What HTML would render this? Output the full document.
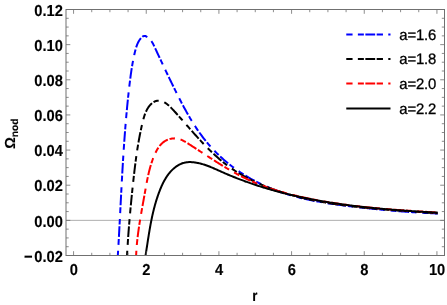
<!DOCTYPE html>
<html><head><meta charset="utf-8"><title>plot</title>
<style>
html,body{margin:0;padding:0;background:#fff;}
svg{display:block;font-family:"Liberation Sans",sans-serif;text-rendering:geometricPrecision;}
</style></head><body>
<svg width="447" height="305" viewBox="0 0 447 305">
<rect width="447" height="305" fill="#fff"/>
<defs><filter id="g" x="-0.1" y="-0.1" width="1.2" height="1.2" color-interpolation-filters="sRGB"><feColorMatrix type="matrix" values="1 0 0 0 0  0 1 0 0 0  0 0 1 0 0  0 0 0 1 0"/></filter><clipPath id="c"><rect x="66.0" y="9.5" width="378.5" height="246.0"/></clipPath></defs>

<line x1="66.0" x2="444.5" y1="220.36" y2="220.36" stroke="#8c8c8c" stroke-width="0.7"/>
<g clip-path="url(#c)" fill="none" stroke-width="2" stroke-linejoin="round">
<path d="M117.83 255.45 L117.90 254.26 L117.97 253.07 L118.05 251.88 L118.12 250.68 L118.19 249.49 L118.26 248.30 L118.33 247.11 L118.40 245.92 L118.47 244.72 L118.53 243.53 L118.60 242.34 L118.67 241.14 L118.74 239.95 L118.80 238.76 L118.87 237.56 L118.93 236.37 L119.00 235.17 L119.07 233.98 L119.13 232.78 L119.20 231.59 L119.26 230.39 L119.32 229.20 L119.39 228.00 L119.45 226.81 L119.51 225.61 L119.58 224.42 L119.64 223.22 L119.70 222.03 L119.77 220.83 L119.83 219.63 L119.89 218.44 L119.95 217.24 L120.01 216.04 L120.08 214.85 L120.14 213.65 L120.20 212.45 L120.26 211.26 L120.32 210.06 L120.38 208.86 L120.45 207.67 L120.51 206.47 L120.57 205.27 L120.63 204.07 L120.69 202.88 L120.75 201.68 L120.82 200.48 L120.88 199.28 L120.94 198.09 L121.00 196.89 L121.07 195.69 L121.13 194.49 L121.19 193.29 L121.25 192.10 L121.32 190.90 L121.38 189.70 L121.44 188.50 L121.51 187.30 L121.57 186.11 L121.64 184.91 L121.70 183.71 L121.76 182.51 L121.83 181.31 L121.90 180.11 L121.96 178.92 L122.03 177.72 L122.09 176.52 L122.16 175.32 L122.23 174.12 L122.30 172.93 L122.36 171.73 L122.43 170.53 L122.50 169.33 L122.57 168.13 L122.64 166.94 L122.71 165.74 L122.78 164.54 L122.86 163.34 L122.93 162.15 L123.00 160.95 L123.08 159.75 L123.15 158.55 L123.22 157.36 L123.30 156.16 L123.37 154.96 L123.45 153.77 L123.53 152.57 L123.61 151.37 L123.69 150.17 L123.76 148.98 L123.84 147.78 L123.93 146.58 L124.01 145.39 L124.09 144.19 L124.17 143.00 L124.26 141.80 L124.34 140.60 L124.43 139.41 L124.51 138.21 L124.60 137.02 L124.69 135.82 L124.78 134.63 L124.87 133.43 L124.96 132.24 L125.05 131.04 L125.14 129.85 L125.24 128.65 L125.33 127.46 L125.43 126.27 L125.53 125.07 L125.62 123.88 L125.72 122.69 L125.82 121.49 L125.92 120.30 L126.03 119.11 L126.13 117.91 L126.23 116.72 L126.34 115.53 L126.44 114.34 L126.55 113.15 L126.66 111.96 L126.77 110.76 L126.88 109.57 L127.00 108.38 L127.11 107.19 L127.22 106.00 L127.34 104.81 L127.46 103.62 L127.58 102.43 L127.70 101.24 L127.82 100.05 L127.94 98.87 L128.07 97.68 L128.19 96.49 L128.32 95.30 L128.45 94.11 L128.58 92.93 L128.71 91.74 L128.84 90.55 L128.97 89.37 L129.11 88.18 L129.25 86.99 L129.38 85.81 L129.52 84.62 L129.67 83.44 L129.81 82.25 L129.96 81.07 L130.10 79.89 L130.25 78.70 L130.41 77.52 L130.56 76.33 L130.72 75.15 L130.89 73.96 L131.06 72.78 L131.23 71.60 L131.41 70.41 L131.59 69.22 L131.77 68.04 L131.97 66.85 L132.16 65.67 L132.37 64.48 L132.58 63.29 L132.79 62.10 L133.02 60.91 L133.25 59.72 L133.49 58.53 L133.73 57.34 L133.98 56.15 L134.24 54.95 L134.51 53.76 L134.79 52.56 L135.08 51.37 L135.38 50.17 L135.70 48.99 L136.04 47.82 L136.41 46.66 L136.80 45.52 L137.23 44.40 L137.70 43.31 L138.21 42.24 L138.76 41.22 L139.37 40.22 L140.02 39.27 L140.74 38.37 L141.51 37.51 L142.35 36.74 L143.26 36.17 L144.24 35.92 L145.30 36.05 L146.38 36.48 L147.45 37.13 L148.44 37.89 L149.35 38.71 L150.17 39.60 L150.93 40.53 L151.63 41.51 L152.28 42.53 L152.89 43.58 L153.45 44.65 L154.00 45.74 L154.52 46.84 L155.04 47.95 L155.55 49.06 L156.07 50.16 L156.58 51.26 L157.09 52.36 L157.60 53.46 L158.11 54.56 L158.62 55.65 L159.13 56.75 L159.64 57.84 L160.15 58.93 L160.66 60.01 L161.17 61.10 L161.68 62.18 L162.19 63.27 L162.70 64.35 L163.21 65.43 L163.72 66.51 L164.24 67.59 L164.75 68.66 L165.26 69.74 L165.77 70.82 L166.28 71.89 L166.80 72.96 L167.31 74.04 L167.82 75.11 L168.34 76.18 L168.85 77.25 L169.37 78.32 L169.89 79.39 L170.41 80.46 L170.93 81.53 L171.45 82.60 L171.97 83.67 L172.49 84.74 L173.02 85.81 L173.54 86.88 L174.07 87.95 L174.60 89.02 L175.13 90.09 L175.66 91.16 L176.20 92.23 L176.73 93.30 L177.27 94.37 L177.81 95.44 L178.35 96.51 L178.89 97.58 L179.44 98.65 L179.99 99.72 L180.54 100.79 L181.10 101.85 L181.65 102.92 L182.21 103.98 L182.78 105.04 L183.34 106.11 L183.91 107.17 L184.48 108.22 L185.06 109.28 L185.64 110.33 L186.22 111.39 L186.81 112.43 L187.40 113.48 L188.00 114.53 L188.60 115.57 L189.20 116.61 L189.81 117.65 L190.43 118.68 L191.04 119.71 L191.67 120.74 L192.30 121.76 L192.93 122.78 L193.57 123.80 L194.21 124.81 L194.86 125.82 L195.51 126.83 L196.17 127.83 L196.84 128.82 L197.51 129.82 L198.18 130.80 L198.87 131.79 L199.55 132.76 L200.25 133.74 L200.95 134.71 L201.66 135.67 L202.37 136.63 L203.09 137.58 L203.82 138.53 L204.56 139.47 L205.30 140.41 L206.05 141.34 L206.81 142.26 L207.57 143.18 L208.34 144.09 L209.12 144.99 L209.91 145.89 L210.70 146.78 L211.50 147.67 L212.31 148.55 L213.12 149.42 L213.95 150.29 L214.78 151.15 L215.61 152.00 L216.46 152.85 L217.31 153.69 L218.16 154.52 L219.03 155.35 L219.90 156.17 L220.78 156.98 L221.66 157.79 L222.55 158.59 L223.45 159.38 L224.35 160.17 L225.26 160.94 L226.17 161.72 L227.09 162.48 L228.02 163.24 L228.95 163.99 L229.89 164.74 L230.83 165.48 L231.78 166.21 L232.74 166.93 L233.70 167.65 L234.66 168.36 L235.63 169.06 L236.61 169.76 L237.59 170.45 L238.58 171.13 L239.57 171.80 L240.56 172.47 L241.57 173.13 L242.57 173.78 L243.58 174.43 L244.60 175.07 L245.62 175.70 L246.64 176.32 L247.67 176.94 L248.70 177.55 L249.74 178.15 L250.78 178.75 L251.83 179.33 L252.88 179.91 L253.93 180.49 L254.99 181.05 L256.05 181.61 L257.11 182.16 L258.18 182.70 L259.25 183.23 L260.33 183.76 L261.41 184.28 L262.49 184.79 L263.58 185.30 L264.67 185.79 L265.76 186.28 L266.85 186.76 L267.95 187.24 L269.05 187.70 L270.15 188.16 L271.26 188.61 L272.37 189.05 L273.48 189.49 L274.60 189.92 L275.71 190.34 L276.83 190.75 L277.95 191.16 L279.08 191.56 L280.21 191.95 L281.34 192.34 L282.47 192.72 L283.60 193.09 L284.74 193.45 L285.88 193.81 L287.02 194.17 L288.16 194.51 L289.30 194.85 L290.45 195.19 L291.60 195.52 L292.75 195.84 L293.90 196.16 L295.06 196.47 L296.21 196.77 L297.37 197.07 L298.53 197.37 L299.69 197.66 L300.86 197.94 L302.02 198.22 L303.19 198.49 L304.36 198.76 L305.53 199.02 L306.70 199.28 L307.87 199.54 L309.04 199.79 L310.22 200.03 L311.39 200.27 L312.57 200.51 L313.75 200.74 L314.93 200.97 L316.11 201.19 L317.29 201.41 L318.47 201.62 L319.66 201.84 L320.84 202.04 L322.03 202.25 L323.21 202.45 L324.40 202.65 L325.59 202.84 L326.78 203.03 L327.97 203.22 L329.16 203.40 L330.35 203.58 L331.54 203.76 L332.73 203.94 L333.92 204.11 L335.11 204.28 L336.31 204.45 L337.50 204.61 L338.69 204.78 L339.88 204.94 L341.08 205.10 L342.27 205.25 L343.47 205.41 L344.66 205.56 L345.85 205.71 L347.05 205.86 L348.24 206.01 L349.43 206.15 L350.63 206.30 L351.82 206.44 L353.01 206.58 L354.21 206.72 L355.40 206.86 L356.59 207.00 L357.78 207.13 L358.97 207.27 L360.16 207.41 L361.35 207.54 L362.54 207.67 L363.73 207.81 L364.92 207.94 L366.11 208.07 L367.30 208.20 L368.49 208.32 L369.68 208.45 L370.86 208.58 L372.05 208.70 L373.24 208.82 L374.43 208.95 L375.62 209.07 L376.80 209.19 L377.99 209.31 L379.18 209.43 L380.37 209.54 L381.55 209.66 L382.74 209.77 L383.93 209.88 L385.12 210.00 L386.30 210.11 L387.49 210.22 L388.68 210.32 L389.87 210.43 L391.06 210.54 L392.25 210.64 L393.43 210.74 L394.62 210.84 L395.81 210.94 L397.00 211.04 L398.19 211.14 L399.38 211.24 L400.57 211.33 L401.76 211.42 L402.95 211.51 L404.15 211.60 L405.34 211.69 L406.53 211.78 L407.72 211.87 L408.92 211.95 L410.11 212.03 L411.31 212.11 L412.50 212.19 L413.70 212.27 L414.89 212.35 L416.09 212.42 L417.29 212.50 L418.48 212.57 L419.68 212.64 L420.88 212.71 L422.08 212.78 L423.28 212.84 L424.48 212.90 L425.69 212.97 L426.89 213.03 L428.09 213.09 L429.30 213.14 L430.51 213.20 L431.71 213.25 L432.92 213.30 L434.13 213.35 L435.34 213.40 L436.55 213.45 L437.76 213.49" stroke="#0000ff" stroke-dasharray="5.450 5.850 5.900 2.100 10.600 1.850" stroke-dashoffset="0.7"/>
<path d="M127.02 255.48 L127.08 254.53 L127.13 253.58 L127.18 252.63 L127.24 251.68 L127.29 250.73 L127.35 249.77 L127.41 248.82 L127.46 247.87 L127.52 246.92 L127.58 245.97 L127.64 245.01 L127.71 244.06 L127.77 243.11 L127.83 242.15 L127.89 241.20 L127.96 240.25 L128.02 239.29 L128.09 238.34 L128.16 237.39 L128.22 236.43 L128.29 235.48 L128.36 234.52 L128.43 233.57 L128.50 232.62 L128.57 231.66 L128.64 230.71 L128.72 229.75 L128.79 228.80 L128.87 227.84 L128.94 226.89 L129.02 225.93 L129.09 224.98 L129.17 224.02 L129.25 223.07 L129.33 222.11 L129.41 221.16 L129.48 220.20 L129.57 219.25 L129.65 218.29 L129.73 217.34 L129.81 216.38 L129.89 215.43 L129.98 214.47 L130.06 213.52 L130.15 212.57 L130.23 211.61 L130.32 210.66 L130.41 209.70 L130.49 208.75 L130.58 207.79 L130.67 206.84 L130.76 205.88 L130.85 204.93 L130.94 203.97 L131.03 203.02 L131.13 202.07 L131.22 201.11 L131.31 200.16 L131.41 199.21 L131.50 198.25 L131.59 197.30 L131.69 196.35 L131.79 195.39 L131.88 194.44 L131.98 193.49 L132.08 192.54 L132.18 191.58 L132.27 190.63 L132.37 189.68 L132.47 188.73 L132.57 187.78 L132.67 186.83 L132.78 185.87 L132.88 184.92 L132.98 183.97 L133.08 183.02 L133.19 182.07 L133.29 181.12 L133.39 180.17 L133.50 179.22 L133.60 178.28 L133.71 177.33 L133.82 176.38 L133.92 175.43 L134.03 174.48 L134.14 173.53 L134.25 172.59 L134.36 171.64 L134.47 170.69 L134.58 169.75 L134.69 168.80 L134.81 167.85 L134.92 166.91 L135.04 165.96 L135.16 165.01 L135.28 164.07 L135.40 163.12 L135.52 162.18 L135.64 161.23 L135.77 160.29 L135.89 159.34 L136.02 158.40 L136.15 157.45 L136.28 156.51 L136.41 155.56 L136.55 154.62 L136.68 153.68 L136.82 152.73 L136.96 151.79 L137.10 150.84 L137.25 149.90 L137.39 148.96 L137.54 148.01 L137.69 147.07 L137.85 146.13 L138.00 145.18 L138.16 144.24 L138.32 143.30 L138.48 142.36 L138.65 141.41 L138.81 140.47 L138.98 139.53 L139.15 138.58 L139.33 137.64 L139.51 136.70 L139.69 135.76 L139.87 134.81 L140.06 133.87 L140.25 132.93 L140.44 131.98 L140.64 131.04 L140.83 130.10 L141.04 129.16 L141.24 128.21 L141.45 127.27 L141.66 126.33 L141.87 125.39 L142.09 124.44 L142.31 123.50 L142.54 122.56 L142.77 121.61 L143.00 120.67 L143.24 119.73 L143.50 118.80 L143.76 117.87 L144.03 116.94 L144.32 116.02 L144.62 115.11 L144.94 114.21 L145.28 113.32 L145.63 112.44 L146.01 111.57 L146.42 110.71 L146.85 109.87 L147.30 109.05 L147.79 108.24 L148.30 107.45 L148.85 106.68 L149.43 105.92 L150.05 105.19 L150.70 104.49 L151.39 103.81 L152.11 103.17 L152.86 102.59 L153.64 102.07 L154.46 101.61 L155.29 101.24 L156.16 100.95 L157.04 100.77 L157.95 100.69 L158.87 100.70 L159.78 100.80 L160.68 100.97 L161.56 101.21 L162.42 101.50 L163.27 101.85 L164.10 102.25 L164.91 102.71 L165.71 103.20 L166.50 103.74 L167.27 104.32 L168.03 104.92 L168.78 105.56 L169.52 106.23 L170.25 106.92 L170.96 107.62 L171.67 108.34 L172.37 109.07 L173.05 109.81 L173.74 110.55 L174.41 111.30 L175.08 112.03 L175.74 112.77 L176.40 113.50 L177.05 114.23 L177.70 114.95 L178.34 115.67 L178.97 116.38 L179.61 117.10 L180.24 117.81 L180.87 118.52 L181.49 119.23 L182.11 119.93 L182.73 120.64 L183.35 121.34 L183.97 122.04 L184.59 122.75 L185.20 123.45 L185.82 124.15 L186.43 124.85 L187.05 125.55 L187.67 126.26 L188.28 126.96 L188.90 127.67 L189.52 128.38 L190.15 129.08 L190.77 129.79 L191.40 130.50 L192.03 131.21 L192.65 131.92 L193.28 132.63 L193.92 133.34 L194.55 134.05 L195.19 134.76 L195.83 135.47 L196.47 136.18 L197.11 136.89 L197.75 137.60 L198.40 138.31 L199.04 139.02 L199.69 139.73 L200.35 140.43 L201.00 141.14 L201.66 141.84 L202.32 142.54 L202.98 143.24 L203.64 143.94 L204.31 144.64 L204.97 145.33 L205.65 146.02 L206.32 146.71 L206.99 147.40 L207.67 148.09 L208.35 148.77 L209.04 149.45 L209.72 150.13 L210.41 150.81 L211.10 151.48 L211.80 152.15 L212.50 152.81 L213.20 153.47 L213.90 154.13 L214.61 154.79 L215.32 155.44 L216.03 156.09 L216.74 156.73 L217.46 157.37 L218.18 158.01 L218.91 158.64 L219.64 159.26 L220.37 159.89 L221.11 160.50 L221.84 161.12 L222.59 161.72 L223.33 162.33 L224.08 162.92 L224.83 163.51 L225.59 164.10 L226.35 164.68 L227.11 165.26 L227.88 165.83 L228.65 166.39 L229.42 166.95 L230.20 167.50 L230.98 168.05 L231.76 168.60 L232.55 169.13 L233.34 169.67 L234.13 170.19 L234.93 170.72 L235.73 171.23 L236.53 171.75 L237.34 172.25 L238.15 172.75 L238.96 173.25 L239.78 173.74 L240.60 174.23 L241.42 174.71 L242.24 175.19 L243.07 175.66 L243.90 176.13 L244.73 176.59 L245.56 177.05 L246.40 177.50 L247.24 177.95 L248.09 178.40 L248.93 178.84 L249.78 179.27 L250.63 179.70 L251.48 180.13 L252.34 180.55 L253.19 180.97 L254.05 181.38 L254.92 181.79 L255.78 182.19 L256.65 182.59 L257.52 182.98 L258.39 183.37 L259.26 183.76 L260.13 184.14 L261.01 184.52 L261.89 184.90 L262.77 185.27 L263.65 185.63 L264.54 185.99 L265.43 186.35 L266.31 186.70 L267.20 187.05 L268.10 187.40 L268.99 187.74 L269.88 188.08 L270.78 188.42 L271.68 188.75 L272.58 189.07 L273.48 189.40 L274.38 189.72 L275.29 190.03 L276.19 190.35 L277.10 190.65 L278.01 190.96 L278.92 191.26 L279.83 191.56 L280.74 191.85 L281.65 192.15 L282.57 192.43 L283.48 192.72 L284.40 193.00 L285.32 193.28 L286.23 193.55 L287.15 193.82 L288.07 194.09 L288.99 194.36 L289.91 194.62 L290.84 194.88 L291.76 195.13 L292.68 195.39 L293.61 195.64 L294.53 195.88 L295.46 196.13 L296.38 196.37 L297.31 196.61 L298.24 196.84 L299.17 197.08 L300.09 197.31 L301.02 197.53 L301.95 197.76 L302.88 197.98 L303.81 198.20 L304.75 198.41 L305.68 198.63 L306.61 198.84 L307.54 199.04 L308.48 199.25 L309.41 199.45 L310.34 199.65 L311.28 199.85 L312.21 200.05 L313.15 200.24 L314.09 200.43 L315.02 200.62 L315.96 200.80 L316.90 200.99 L317.84 201.17 L318.77 201.35 L319.71 201.52 L320.65 201.70 L321.59 201.87 L322.53 202.04 L323.47 202.20 L324.42 202.37 L325.36 202.53 L326.30 202.69 L327.24 202.85 L328.18 203.01 L329.13 203.16 L330.07 203.31 L331.02 203.46 L331.96 203.61 L332.90 203.76 L333.85 203.90 L334.79 204.05 L335.74 204.19 L336.69 204.33 L337.63 204.46 L338.58 204.60 L339.53 204.73 L340.47 204.86 L341.42 204.99 L342.37 205.12 L343.32 205.25 L344.27 205.37 L345.21 205.49 L346.16 205.62 L347.11 205.74 L348.06 205.85 L349.01 205.97 L349.96 206.09 L350.91 206.20 L351.86 206.31 L352.81 206.42 L353.77 206.53 L354.72 206.64 L355.67 206.75 L356.62 206.85 L357.57 206.95 L358.52 207.06 L359.48 207.16 L360.43 207.26 L361.38 207.36 L362.33 207.45 L363.29 207.55 L364.24 207.64 L365.19 207.74 L366.15 207.83 L367.10 207.92 L368.06 208.01 L369.01 208.10 L369.96 208.19 L370.92 208.28 L371.87 208.37 L372.83 208.45 L373.78 208.54 L374.74 208.62 L375.69 208.70 L376.64 208.79 L377.60 208.87 L378.55 208.95 L379.51 209.03 L380.46 209.11 L381.42 209.18 L382.37 209.26 L383.33 209.34 L384.28 209.41 L385.24 209.49 L386.20 209.57 L387.15 209.64 L388.11 209.71 L389.06 209.79 L390.02 209.86 L390.97 209.93 L391.93 210.00 L392.88 210.07 L393.84 210.15 L394.79 210.22 L395.75 210.29 L396.70 210.36 L397.66 210.43 L398.61 210.50 L399.57 210.56 L400.52 210.63 L401.48 210.70 L402.43 210.77 L403.39 210.84 L404.34 210.91 L405.30 210.97 L406.25 211.04 L407.20 211.11 L408.16 211.18 L409.11 211.24 L410.07 211.31 L411.02 211.38 L411.97 211.45 L412.93 211.52 L413.88 211.58 L414.83 211.65 L415.79 211.72 L416.74 211.79 L417.69 211.86 L418.64 211.92 L419.60 211.99 L420.55 212.06 L421.50 212.13 L422.45 212.20 L423.40 212.27 L424.35 212.34 L425.31 212.41 L426.26 212.49 L427.21 212.56 L428.16 212.63 L429.11 212.70 L430.06 212.77 L431.01 212.85 L431.96 212.92 L432.90 213.00 L433.85 213.07 L434.80 213.15 L435.75 213.23 L436.70 213.30 L437.64 213.38" stroke="#000000" stroke-dasharray="5.439 5.838 5.888 2.096 10.579 1.846" stroke-dashoffset="0.7"/>
<path d="M136.12 255.47 L136.16 254.66 L136.19 253.85 L136.24 253.04 L136.28 252.23 L136.33 251.42 L136.38 250.61 L136.43 249.80 L136.49 248.98 L136.55 248.17 L136.61 247.36 L136.68 246.55 L136.74 245.73 L136.81 244.92 L136.89 244.11 L136.96 243.30 L137.04 242.48 L137.13 241.67 L137.21 240.86 L137.30 240.04 L137.39 239.23 L137.48 238.42 L137.57 237.60 L137.67 236.79 L137.77 235.97 L137.87 235.16 L137.97 234.35 L138.07 233.53 L138.18 232.72 L138.29 231.90 L138.40 231.09 L138.51 230.28 L138.63 229.46 L138.74 228.65 L138.86 227.84 L138.98 227.02 L139.10 226.21 L139.22 225.40 L139.35 224.58 L139.47 223.77 L139.60 222.96 L139.73 222.14 L139.86 221.33 L139.99 220.52 L140.12 219.70 L140.26 218.89 L140.39 218.08 L140.53 217.27 L140.66 216.46 L140.80 215.64 L140.94 214.83 L141.08 214.02 L141.22 213.21 L141.36 212.40 L141.50 211.59 L141.64 210.78 L141.79 209.97 L141.93 209.16 L142.07 208.35 L142.22 207.54 L142.36 206.73 L142.51 205.92 L142.65 205.11 L142.80 204.30 L142.94 203.50 L143.09 202.69 L143.24 201.88 L143.38 201.08 L143.53 200.27 L143.67 199.46 L143.82 198.66 L143.96 197.85 L144.11 197.05 L144.26 196.24 L144.40 195.44 L144.54 194.64 L144.69 193.83 L144.83 193.03 L144.97 192.23 L145.12 191.43 L145.26 190.63 L145.40 189.83 L145.54 189.03 L145.69 188.23 L145.83 187.43 L145.97 186.63 L146.12 185.83 L146.26 185.03 L146.41 184.23 L146.56 183.44 L146.71 182.64 L146.86 181.84 L147.01 181.05 L147.17 180.25 L147.32 179.46 L147.48 178.67 L147.65 177.87 L147.81 177.08 L147.98 176.28 L148.16 175.49 L148.33 174.70 L148.51 173.91 L148.70 173.12 L148.88 172.33 L149.08 171.54 L149.27 170.75 L149.47 169.96 L149.68 169.17 L149.89 168.38 L150.11 167.59 L150.33 166.80 L150.56 166.02 L150.79 165.23 L151.03 164.44 L151.28 163.66 L151.53 162.87 L151.79 162.08 L152.06 161.30 L152.33 160.51 L152.61 159.73 L152.90 158.95 L153.20 158.16 L153.50 157.38 L153.81 156.60 L154.13 155.82 L154.46 155.04 L154.80 154.27 L155.15 153.50 L155.51 152.74 L155.88 151.98 L156.26 151.24 L156.66 150.50 L157.07 149.78 L157.49 149.06 L157.93 148.36 L158.38 147.68 L158.85 147.01 L159.33 146.35 L159.83 145.72 L160.34 145.10 L160.88 144.50 L161.43 143.93 L162.00 143.37 L162.59 142.84 L163.20 142.34 L163.83 141.86 L164.48 141.41 L165.15 140.98 L165.85 140.58 L166.56 140.22 L167.30 139.88 L168.05 139.58 L168.81 139.31 L169.59 139.07 L170.38 138.86 L171.18 138.69 L171.99 138.56 L172.80 138.46 L173.61 138.40 L174.41 138.37 L175.22 138.38 L176.02 138.44 L176.82 138.53 L177.60 138.66 L178.38 138.83 L179.14 139.04 L179.90 139.28 L180.65 139.55 L181.39 139.85 L182.13 140.17 L182.86 140.52 L183.58 140.89 L184.30 141.28 L185.02 141.68 L185.73 142.10 L186.44 142.53 L187.14 142.96 L187.85 143.41 L188.55 143.85 L189.25 144.30 L189.95 144.75 L190.65 145.20 L191.35 145.65 L192.05 146.09 L192.75 146.54 L193.45 146.99 L194.14 147.45 L194.84 147.90 L195.54 148.35 L196.23 148.80 L196.93 149.25 L197.62 149.70 L198.31 150.16 L199.01 150.61 L199.70 151.06 L200.39 151.51 L201.09 151.97 L201.78 152.42 L202.47 152.87 L203.16 153.32 L203.85 153.77 L204.55 154.22 L205.24 154.67 L205.93 155.13 L206.62 155.58 L207.31 156.03 L208.00 156.47 L208.69 156.92 L209.38 157.37 L210.08 157.82 L210.77 158.26 L211.46 158.71 L212.15 159.16 L212.84 159.60 L213.53 160.04 L214.23 160.49 L214.92 160.93 L215.61 161.37 L216.31 161.81 L217.00 162.24 L217.69 162.68 L218.39 163.12 L219.08 163.55 L219.78 163.99 L220.47 164.42 L221.17 164.85 L221.87 165.28 L222.56 165.70 L223.26 166.13 L223.96 166.56 L224.66 166.98 L225.36 167.40 L226.06 167.82 L226.76 168.24 L227.47 168.65 L228.17 169.07 L228.87 169.48 L229.58 169.89 L230.28 170.30 L230.99 170.70 L231.70 171.11 L232.41 171.51 L233.12 171.91 L233.83 172.31 L234.54 172.70 L235.25 173.10 L235.97 173.49 L236.68 173.88 L237.40 174.26 L238.11 174.64 L238.83 175.03 L239.55 175.40 L240.28 175.78 L241.00 176.15 L241.72 176.52 L242.45 176.89 L243.17 177.25 L243.90 177.62 L244.63 177.97 L245.36 178.33 L246.10 178.68 L246.83 179.03 L247.57 179.38 L248.30 179.72 L249.04 180.06 L249.78 180.40 L250.53 180.74 L251.27 181.07 L252.02 181.40 L252.76 181.72 L253.51 182.04 L254.26 182.36 L255.01 182.68 L255.77 182.99 L256.52 183.30 L257.27 183.61 L258.03 183.92 L258.79 184.22 L259.55 184.52 L260.31 184.81 L261.07 185.11 L261.84 185.40 L262.60 185.69 L263.37 185.97 L264.13 186.25 L264.90 186.53 L265.67 186.81 L266.44 187.09 L267.21 187.36 L267.99 187.63 L268.76 187.90 L269.53 188.16 L270.31 188.42 L271.09 188.68 L271.87 188.94 L272.64 189.19 L273.42 189.45 L274.21 189.70 L274.99 189.94 L275.77 190.19 L276.55 190.43 L277.34 190.67 L278.12 190.91 L278.91 191.15 L279.70 191.38 L280.49 191.61 L281.27 191.84 L282.06 192.07 L282.85 192.29 L283.64 192.51 L284.44 192.73 L285.23 192.95 L286.02 193.17 L286.82 193.38 L287.61 193.60 L288.40 193.81 L289.20 194.02 L290.00 194.22 L290.79 194.43 L291.59 194.63 L292.39 194.83 L293.19 195.03 L293.98 195.23 L294.78 195.42 L295.58 195.61 L296.38 195.81 L297.18 196.00 L297.98 196.18 L298.78 196.37 L299.59 196.55 L300.39 196.74 L301.19 196.92 L301.99 197.10 L302.79 197.28 L303.60 197.45 L304.40 197.63 L305.20 197.80 L306.01 197.97 L306.81 198.14 L307.61 198.31 L308.42 198.48 L309.22 198.64 L310.03 198.81 L310.83 198.97 L311.63 199.13 L312.44 199.29 L313.24 199.45 L314.05 199.61 L314.85 199.76 L315.66 199.92 L316.46 200.07 L317.27 200.22 L318.07 200.37 L318.88 200.52 L319.69 200.67 L320.49 200.82 L321.30 200.96 L322.10 201.10 L322.91 201.25 L323.72 201.39 L324.52 201.53 L325.33 201.67 L326.14 201.80 L326.95 201.94 L327.75 202.07 L328.56 202.21 L329.37 202.34 L330.18 202.47 L330.98 202.60 L331.79 202.73 L332.60 202.85 L333.41 202.98 L334.22 203.10 L335.03 203.23 L335.83 203.35 L336.64 203.47 L337.45 203.59 L338.26 203.71 L339.07 203.83 L339.88 203.94 L340.69 204.06 L341.50 204.17 L342.31 204.29 L343.12 204.40 L343.93 204.51 L344.74 204.62 L345.55 204.73 L346.36 204.84 L347.17 204.94 L347.98 205.05 L348.79 205.16 L349.60 205.26 L350.41 205.36 L351.22 205.46 L352.04 205.56 L352.85 205.66 L353.66 205.76 L354.47 205.86 L355.28 205.96 L356.09 206.06 L356.91 206.15 L357.72 206.24 L358.53 206.34 L359.34 206.43 L360.15 206.52 L360.97 206.61 L361.78 206.70 L362.59 206.79 L363.41 206.88 L364.22 206.97 L365.03 207.05 L365.84 207.14 L366.66 207.22 L367.47 207.31 L368.28 207.39 L369.10 207.47 L369.91 207.56 L370.73 207.64 L371.54 207.72 L372.35 207.80 L373.17 207.88 L373.98 207.95 L374.80 208.03 L375.61 208.11 L376.42 208.18 L377.24 208.26 L378.05 208.33 L378.87 208.41 L379.68 208.48 L380.50 208.55 L381.31 208.62 L382.13 208.70 L382.94 208.77 L383.76 208.84 L384.57 208.91 L385.39 208.97 L386.20 209.04 L387.02 209.11 L387.84 209.18 L388.65 209.24 L389.47 209.31 L390.28 209.38 L391.10 209.44 L391.92 209.51 L392.73 209.57 L393.55 209.63 L394.36 209.70 L395.18 209.76 L396.00 209.82 L396.81 209.88 L397.63 209.94 L398.45 210.00 L399.26 210.06 L400.08 210.12 L400.90 210.18 L401.71 210.24 L402.53 210.30 L403.35 210.36 L404.17 210.41 L404.98 210.47 L405.80 210.53 L406.62 210.59 L407.44 210.64 L408.25 210.70 L409.07 210.75 L409.89 210.81 L410.71 210.86 L411.52 210.92 L412.34 210.97 L413.16 211.03 L413.98 211.08 L414.80 211.13 L415.61 211.19 L416.43 211.24 L417.25 211.29 L418.07 211.35 L418.89 211.40 L419.71 211.45 L420.52 211.50 L421.34 211.55 L422.16 211.61 L422.98 211.66 L423.80 211.71 L424.62 211.76 L425.44 211.81 L426.25 211.86 L427.07 211.91 L427.89 211.96 L428.71 212.01 L429.53 212.06 L430.35 212.12 L431.17 212.17 L431.99 212.22 L432.81 212.27 L433.63 212.32 L434.45 212.37 L435.27 212.42 L436.08 212.47 L436.90 212.52 L437.72 212.57" stroke="#ff0000" stroke-dasharray="5.401 5.797 5.847 2.081 10.505 1.833" stroke-dashoffset="0.7"/>
<path d="M145.53 255.55 L145.65 254.81 L145.77 254.08 L145.89 253.34 L146.01 252.60 L146.12 251.87 L146.24 251.13 L146.35 250.40 L146.47 249.67 L146.58 248.93 L146.69 248.20 L146.81 247.47 L146.92 246.74 L147.03 246.01 L147.14 245.28 L147.26 244.55 L147.37 243.83 L147.48 243.10 L147.59 242.37 L147.71 241.65 L147.82 240.92 L147.93 240.19 L148.04 239.47 L148.16 238.75 L148.27 238.02 L148.39 237.30 L148.50 236.58 L148.62 235.86 L148.73 235.14 L148.85 234.42 L148.97 233.70 L149.08 232.98 L149.20 232.26 L149.32 231.54 L149.44 230.82 L149.56 230.11 L149.69 229.39 L149.81 228.67 L149.94 227.96 L150.06 227.24 L150.19 226.53 L150.32 225.81 L150.45 225.10 L150.58 224.39 L150.71 223.67 L150.85 222.96 L150.99 222.25 L151.12 221.54 L151.26 220.83 L151.41 220.11 L151.55 219.40 L151.70 218.70 L151.84 217.99 L151.99 217.28 L152.14 216.57 L152.30 215.86 L152.45 215.15 L152.61 214.45 L152.77 213.74 L152.94 213.03 L153.10 212.33 L153.27 211.62 L153.44 210.91 L153.61 210.21 L153.79 209.50 L153.97 208.80 L154.15 208.10 L154.33 207.39 L154.52 206.69 L154.71 205.99 L154.90 205.28 L155.10 204.58 L155.30 203.88 L155.50 203.18 L155.70 202.47 L155.91 201.77 L156.12 201.07 L156.34 200.37 L156.56 199.67 L156.78 198.97 L157.01 198.27 L157.24 197.57 L157.47 196.87 L157.71 196.17 L157.95 195.47 L158.19 194.77 L158.44 194.08 L158.69 193.38 L158.95 192.68 L159.21 191.98 L159.47 191.28 L159.74 190.59 L160.02 189.89 L160.29 189.20 L160.58 188.51 L160.87 187.81 L161.16 187.13 L161.46 186.44 L161.76 185.76 L162.07 185.08 L162.39 184.40 L162.71 183.73 L163.04 183.06 L163.38 182.39 L163.72 181.73 L164.07 181.07 L164.43 180.42 L164.79 179.78 L165.16 179.14 L165.54 178.50 L165.93 177.87 L166.32 177.25 L166.73 176.63 L167.14 176.03 L167.56 175.42 L167.98 174.83 L168.42 174.24 L168.87 173.67 L169.32 173.10 L169.79 172.54 L170.26 171.98 L170.75 171.44 L171.24 170.91 L171.75 170.38 L172.26 169.87 L172.78 169.37 L173.32 168.87 L173.86 168.39 L174.42 167.93 L174.98 167.47 L175.56 167.03 L176.14 166.60 L176.74 166.19 L177.34 165.80 L177.95 165.42 L178.57 165.06 L179.20 164.71 L179.83 164.38 L180.48 164.08 L181.13 163.79 L181.79 163.52 L182.46 163.28 L183.14 163.05 L183.82 162.85 L184.51 162.67 L185.21 162.52 L185.91 162.39 L186.62 162.28 L187.34 162.20 L188.06 162.14 L188.79 162.10 L189.52 162.08 L190.25 162.08 L190.99 162.10 L191.72 162.14 L192.46 162.19 L193.19 162.25 L193.92 162.33 L194.65 162.43 L195.38 162.53 L196.10 162.65 L196.82 162.77 L197.54 162.91 L198.26 163.06 L198.97 163.21 L199.68 163.38 L200.39 163.55 L201.09 163.74 L201.80 163.93 L202.50 164.13 L203.20 164.34 L203.89 164.56 L204.59 164.78 L205.28 165.01 L205.97 165.25 L206.66 165.50 L207.35 165.75 L208.03 166.00 L208.72 166.26 L209.40 166.53 L210.08 166.80 L210.76 167.08 L211.44 167.35 L212.12 167.64 L212.80 167.92 L213.48 168.21 L214.15 168.51 L214.83 168.80 L215.50 169.10 L216.18 169.40 L216.85 169.70 L217.52 170.00 L218.20 170.30 L218.87 170.60 L219.54 170.91 L220.22 171.21 L220.89 171.51 L221.57 171.81 L222.24 172.11 L222.92 172.41 L223.59 172.71 L224.27 173.01 L224.94 173.30 L225.62 173.59 L226.30 173.88 L226.97 174.17 L227.65 174.46 L228.33 174.75 L229.01 175.03 L229.69 175.32 L230.37 175.60 L231.05 175.88 L231.73 176.16 L232.41 176.44 L233.09 176.71 L233.77 176.99 L234.46 177.26 L235.14 177.53 L235.82 177.80 L236.51 178.07 L237.19 178.34 L237.88 178.61 L238.56 178.87 L239.25 179.13 L239.93 179.39 L240.62 179.66 L241.31 179.91 L241.99 180.17 L242.68 180.43 L243.37 180.68 L244.06 180.93 L244.75 181.19 L245.44 181.44 L246.12 181.69 L246.81 181.93 L247.51 182.18 L248.20 182.42 L248.89 182.67 L249.58 182.91 L250.27 183.15 L250.96 183.39 L251.66 183.63 L252.35 183.86 L253.04 184.10 L253.74 184.33 L254.43 184.56 L255.13 184.79 L255.82 185.02 L256.52 185.25 L257.21 185.48 L257.91 185.71 L258.60 185.93 L259.30 186.15 L260.00 186.37 L260.70 186.60 L261.39 186.81 L262.09 187.03 L262.79 187.25 L263.49 187.46 L264.19 187.68 L264.89 187.89 L265.59 188.10 L266.29 188.31 L266.99 188.52 L267.69 188.73 L268.39 188.94 L269.10 189.14 L269.80 189.35 L270.50 189.55 L271.20 189.75 L271.91 189.95 L272.61 190.15 L273.31 190.35 L274.02 190.54 L274.72 190.74 L275.43 190.93 L276.13 191.13 L276.84 191.32 L277.54 191.51 L278.25 191.70 L278.95 191.89 L279.66 192.07 L280.37 192.26 L281.08 192.44 L281.78 192.63 L282.49 192.81 L283.20 192.99 L283.91 193.17 L284.62 193.35 L285.33 193.53 L286.03 193.70 L286.74 193.88 L287.45 194.05 L288.16 194.23 L288.88 194.40 L289.59 194.57 L290.30 194.74 L291.01 194.91 L291.72 195.08 L292.43 195.24 L293.14 195.41 L293.86 195.57 L294.57 195.73 L295.28 195.90 L296.00 196.06 L296.71 196.22 L297.42 196.38 L298.14 196.54 L298.85 196.69 L299.56 196.85 L300.28 197.00 L300.99 197.16 L301.71 197.31 L302.43 197.46 L303.14 197.61 L303.86 197.76 L304.57 197.91 L305.29 198.06 L306.01 198.20 L306.72 198.35 L307.44 198.49 L308.16 198.64 L308.88 198.78 L309.59 198.92 L310.31 199.06 L311.03 199.20 L311.75 199.34 L312.47 199.48 L313.19 199.61 L313.91 199.75 L314.62 199.88 L315.34 200.02 L316.06 200.15 L316.78 200.28 L317.50 200.41 L318.22 200.54 L318.95 200.67 L319.67 200.80 L320.39 200.93 L321.11 201.06 L321.83 201.18 L322.55 201.31 L323.27 201.43 L323.99 201.55 L324.72 201.67 L325.44 201.79 L326.16 201.91 L326.88 202.03 L327.61 202.15 L328.33 202.27 L329.05 202.39 L329.78 202.50 L330.50 202.62 L331.22 202.73 L331.95 202.84 L332.67 202.96 L333.40 203.07 L334.12 203.18 L334.85 203.29 L335.57 203.40 L336.30 203.51 L337.02 203.61 L337.75 203.72 L338.47 203.83 L339.20 203.93 L339.92 204.03 L340.65 204.14 L341.37 204.24 L342.10 204.34 L342.83 204.44 L343.55 204.54 L344.28 204.64 L345.00 204.74 L345.73 204.84 L346.46 204.94 L347.19 205.03 L347.91 205.13 L348.64 205.22 L349.37 205.32 L350.09 205.41 L350.82 205.50 L351.55 205.60 L352.28 205.69 L353.01 205.78 L353.73 205.87 L354.46 205.96 L355.19 206.05 L355.92 206.13 L356.65 206.22 L357.37 206.31 L358.10 206.39 L358.83 206.48 L359.56 206.56 L360.29 206.65 L361.02 206.73 L361.75 206.81 L362.48 206.89 L363.21 206.97 L363.93 207.05 L364.66 207.13 L365.39 207.21 L366.12 207.29 L366.85 207.37 L367.58 207.45 L368.31 207.52 L369.04 207.60 L369.77 207.68 L370.50 207.75 L371.23 207.82 L371.96 207.90 L372.69 207.97 L373.42 208.04 L374.15 208.12 L374.88 208.19 L375.61 208.26 L376.34 208.33 L377.07 208.40 L377.80 208.47 L378.53 208.53 L379.26 208.60 L379.99 208.67 L380.73 208.74 L381.46 208.80 L382.19 208.87 L382.92 208.93 L383.65 209.00 L384.38 209.06 L385.11 209.13 L385.84 209.19 L386.57 209.25 L387.30 209.31 L388.03 209.38 L388.76 209.44 L389.49 209.50 L390.23 209.56 L390.96 209.62 L391.69 209.68 L392.42 209.74 L393.15 209.79 L393.88 209.85 L394.61 209.91 L395.34 209.97 L396.07 210.02 L396.80 210.08 L397.53 210.14 L398.26 210.19 L399.00 210.25 L399.73 210.30 L400.46 210.35 L401.19 210.41 L401.92 210.46 L402.65 210.51 L403.38 210.57 L404.11 210.62 L404.84 210.67 L405.57 210.72 L406.30 210.77 L407.03 210.82 L407.76 210.87 L408.49 210.92 L409.22 210.97 L409.95 211.02 L410.68 211.07 L411.42 211.12 L412.15 211.16 L412.88 211.21 L413.61 211.26 L414.34 211.31 L415.07 211.35 L415.80 211.40 L416.53 211.45 L417.26 211.49 L417.98 211.54 L418.71 211.58 L419.44 211.63 L420.17 211.67 L420.90 211.71 L421.63 211.76 L422.36 211.80 L423.09 211.85 L423.82 211.89 L424.55 211.93 L425.28 211.97 L426.01 212.02 L426.74 212.06 L427.46 212.10 L428.19 212.14 L428.92 212.18 L429.65 212.22 L430.38 212.26 L431.11 212.31 L431.84 212.35 L432.56 212.39 L433.29 212.43 L434.02 212.47 L434.75 212.50 L435.47 212.54 L436.20 212.58 L436.93 212.62 L437.66 212.66" stroke="#000000"/>
</g>
<path d="M73.57 255.5 v-4.3 M73.57 9.5 v4.3 M91.74 255.5 v-2.7 M91.74 9.5 v2.7 M109.91 255.5 v-2.7 M109.91 9.5 v2.7 M128.07 255.5 v-2.7 M128.07 9.5 v2.7 M146.24 255.5 v-4.3 M146.24 9.5 v4.3 M164.41 255.5 v-2.7 M164.41 9.5 v2.7 M182.58 255.5 v-2.7 M182.58 9.5 v2.7 M200.75 255.5 v-2.7 M200.75 9.5 v2.7 M218.91 255.5 v-4.3 M218.91 9.5 v4.3 M237.08 255.5 v-2.7 M237.08 9.5 v2.7 M255.25 255.5 v-2.7 M255.25 9.5 v2.7 M273.42 255.5 v-2.7 M273.42 9.5 v2.7 M291.59 255.5 v-4.3 M291.59 9.5 v4.3 M309.75 255.5 v-2.7 M309.75 9.5 v2.7 M327.92 255.5 v-2.7 M327.92 9.5 v2.7 M346.09 255.5 v-2.7 M346.09 9.5 v2.7 M364.26 255.5 v-4.3 M364.26 9.5 v4.3 M382.43 255.5 v-2.7 M382.43 9.5 v2.7 M400.59 255.5 v-2.7 M400.59 9.5 v2.7 M418.76 255.5 v-2.7 M418.76 9.5 v2.7 M436.93 255.5 v-4.3 M436.93 9.5 v4.3 M66.0 255.50 h4.3 M444.5 255.50 h-4.3 M66.0 246.71 h2.7 M444.5 246.71 h-2.7 M66.0 237.93 h2.7 M444.5 237.93 h-2.7 M66.0 229.14 h2.7 M444.5 229.14 h-2.7 M66.0 220.36 h4.3 M444.5 220.36 h-4.3 M66.0 211.57 h2.7 M444.5 211.57 h-2.7 M66.0 202.79 h2.7 M444.5 202.79 h-2.7 M66.0 194.00 h2.7 M444.5 194.00 h-2.7 M66.0 185.21 h4.3 M444.5 185.21 h-4.3 M66.0 176.43 h2.7 M444.5 176.43 h-2.7 M66.0 167.64 h2.7 M444.5 167.64 h-2.7 M66.0 158.86 h2.7 M444.5 158.86 h-2.7 M66.0 150.07 h4.3 M444.5 150.07 h-4.3 M66.0 141.29 h2.7 M444.5 141.29 h-2.7 M66.0 132.50 h2.7 M444.5 132.50 h-2.7 M66.0 123.71 h2.7 M444.5 123.71 h-2.7 M66.0 114.93 h4.3 M444.5 114.93 h-4.3 M66.0 106.14 h2.7 M444.5 106.14 h-2.7 M66.0 97.36 h2.7 M444.5 97.36 h-2.7 M66.0 88.57 h2.7 M444.5 88.57 h-2.7 M66.0 79.79 h4.3 M444.5 79.79 h-4.3 M66.0 71.00 h2.7 M444.5 71.00 h-2.7 M66.0 62.21 h2.7 M444.5 62.21 h-2.7 M66.0 53.43 h2.7 M444.5 53.43 h-2.7 M66.0 44.64 h4.3 M444.5 44.64 h-4.3 M66.0 35.86 h2.7 M444.5 35.86 h-2.7 M66.0 27.07 h2.7 M444.5 27.07 h-2.7 M66.0 18.29 h2.7 M444.5 18.29 h-2.7 M66.0 9.50 h4.3 M444.5 9.50 h-4.3" stroke="#666" stroke-width="0.75" fill="none"/>
<rect x="66.0" y="9.5" width="378.5" height="246.0" fill="none" stroke="#707070" stroke-width="1"/>
<g filter="url(#g)" fill="#000">
<text transform="translate(62.95 261.65) scale(1.0 1.08)" font-size="14.7" text-anchor="end" font-weight="bold" stroke="#000" stroke-width="0.12">−<tspan dx="1.9">0.02</tspan></text>
<text transform="translate(62.95 226.51) scale(1.0 1.08)" font-size="14.7" text-anchor="end" font-weight="bold" stroke="#000" stroke-width="0.12">0.00</text>
<text transform="translate(62.95 191.36) scale(1.0 1.08)" font-size="14.7" text-anchor="end" font-weight="bold" stroke="#000" stroke-width="0.12">0.02</text>
<text transform="translate(62.95 156.22) scale(1.0 1.08)" font-size="14.7" text-anchor="end" font-weight="bold" stroke="#000" stroke-width="0.12">0.04</text>
<text transform="translate(62.95 121.08) scale(1.0 1.08)" font-size="14.7" text-anchor="end" font-weight="bold" stroke="#000" stroke-width="0.12">0.06</text>
<text transform="translate(62.95 85.94) scale(1.0 1.08)" font-size="14.7" text-anchor="end" font-weight="bold" stroke="#000" stroke-width="0.12">0.08</text>
<text transform="translate(62.95 50.79) scale(1.0 1.08)" font-size="14.7" text-anchor="end" font-weight="bold" stroke="#000" stroke-width="0.12">0.10</text>
<text transform="translate(62.95 15.65) scale(1.0 1.08)" font-size="14.7" text-anchor="end" font-weight="bold" stroke="#000" stroke-width="0.12">0.12</text>
<text transform="translate(73.72 274.55) scale(1.0 1.08)" font-size="14.7" text-anchor="middle" font-weight="bold" stroke="#000" stroke-width="0.12">0</text>
<text transform="translate(146.39 274.55) scale(1.0 1.08)" font-size="14.7" text-anchor="middle" font-weight="bold" stroke="#000" stroke-width="0.12">2</text>
<text transform="translate(219.06 274.55) scale(1.0 1.08)" font-size="14.7" text-anchor="middle" font-weight="bold" stroke="#000" stroke-width="0.12">4</text>
<text transform="translate(291.74 274.55) scale(1.0 1.08)" font-size="14.7" text-anchor="middle" font-weight="bold" stroke="#000" stroke-width="0.12">6</text>
<text transform="translate(364.41 274.55) scale(1.0 1.08)" font-size="14.7" text-anchor="middle" font-weight="bold" stroke="#000" stroke-width="0.12">8</text>
<text transform="translate(437.08 274.55) scale(1.0 1.08)" font-size="14.7" text-anchor="middle" font-weight="bold" stroke="#000" stroke-width="0.12">10</text>
<text transform="translate(254.90 301.00) scale(0.94 1.1)" font-size="14.2" text-anchor="middle" font-weight="bold" stroke="#000" stroke-width="0.12">r</text>
<g transform="translate(15 148.8) rotate(-90)" font-weight="bold" stroke="#000" stroke-width="0.12"><text x="0" y="0" font-size="14.5">Ω<tspan dy="2.9" font-size="10.2">nod</tspan></text></g>
<text transform="translate(399.30 39.75) scale(1.0 1.02)" font-size="14.9" text-anchor="start" letter-spacing="-0.2" stroke="#000" stroke-width="0.3">a=1.6</text>
<text transform="translate(399.30 64.25) scale(1.0 1.02)" font-size="14.9" text-anchor="start" letter-spacing="-0.2" stroke="#000" stroke-width="0.3">a=1.8</text>
<text transform="translate(399.30 88.95) scale(1.0 1.02)" font-size="14.9" text-anchor="start" letter-spacing="-0.2" stroke="#000" stroke-width="0.3">a=2.0</text>
<text transform="translate(399.30 113.90) scale(1.0 1.02)" font-size="14.9" text-anchor="start" letter-spacing="-0.2" stroke="#000" stroke-width="0.3">a=2.2</text>
</g>
<line x1="346.27" x2="390.5" y1="34.4" y2="34.4" stroke="#0000ff" stroke-width="2" stroke-dasharray="6.3 5.3 6.0 1.5 9.8 1.5"/>
<line x1="346.27" x2="390.5" y1="58.9" y2="58.9" stroke="#000" stroke-width="2" stroke-dasharray="6.3 5.3 6.0 1.5 9.8 1.5"/>
<line x1="346.27" x2="390.5" y1="83.6" y2="83.6" stroke="#ff0000" stroke-width="2" stroke-dasharray="6.3 5.3 6.0 1.5 9.8 1.5"/>
<line x1="346.27" x2="390.5" y1="108.55" y2="108.55" stroke="#000" stroke-width="2"/>
</svg></body></html>
